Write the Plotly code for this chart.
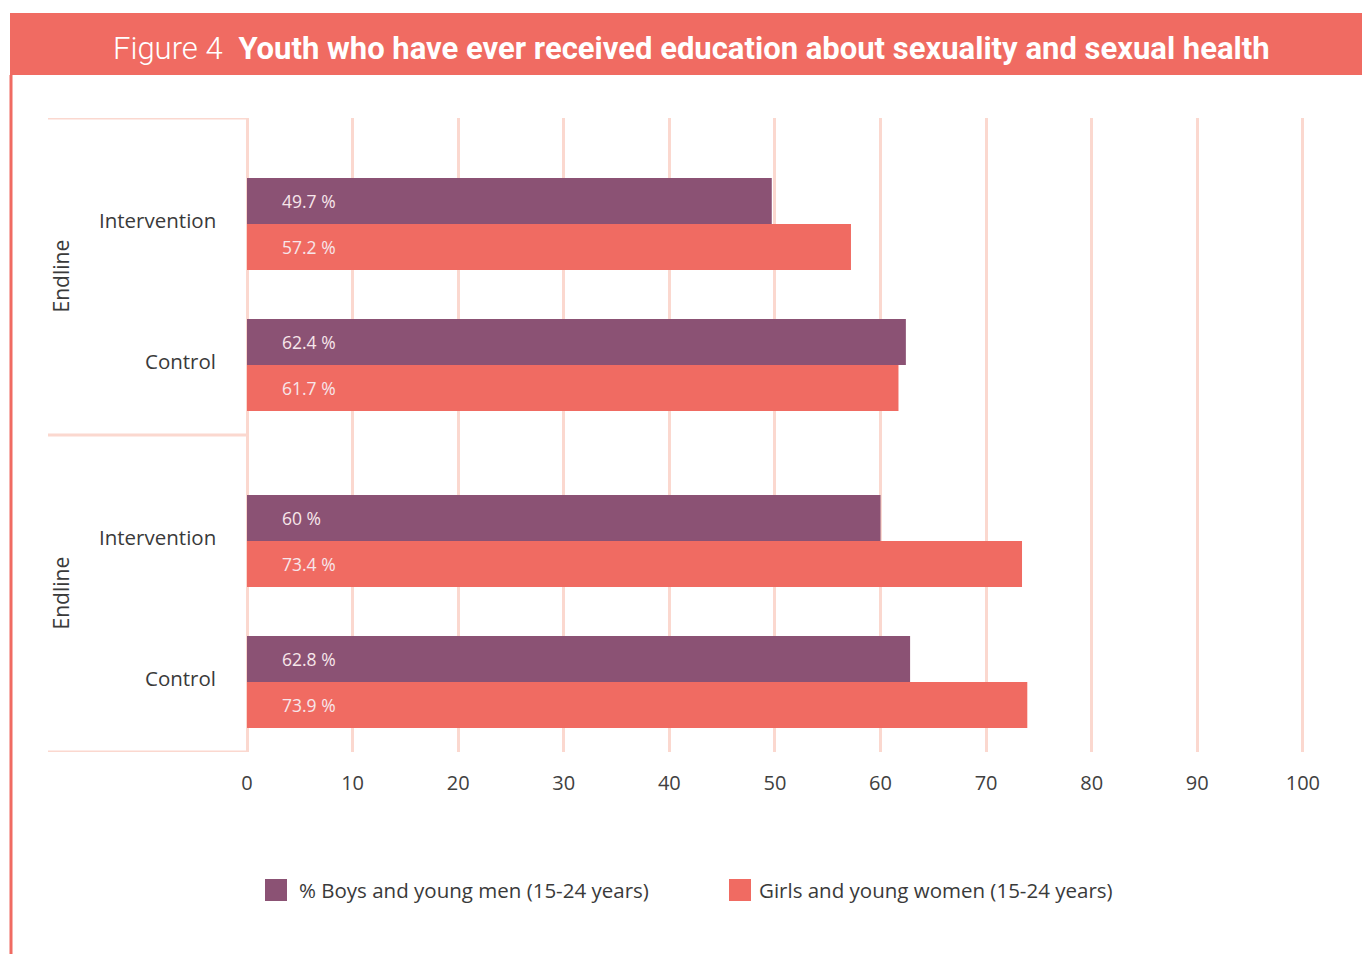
import plotly.graph_objects as go

# ---- data -------------------------------------------------------------
groups = ["Endline", "Endline"]
arms = ["Intervention", "Control"]
boys = [49.7, 62.4, 60.0, 62.8]      # % Boys and young men (15-24 years)
girls = [57.2, 61.7, 73.4, 73.9]     # Girls and young women (15-24 years)
x_ticks = [0, 10, 20, 30, 40, 50, 60, 70, 80, 90, 100]

title_light = "Figure 4"
title_bold = "Youth who have ever received education about sexuality and sexual health"
legend_labels = ["% Boys and young men (15-24 years)", "Girls and young women (15-24 years)"]

# ---- styling ----------------------------------------------------------
W, H = 1362, 954
L, R, T, B = 247, 1305, 118, 752          # plot area in page pixels
X_MAX = 100.2                              # a little headroom so the 100 gridline shows
PURPLE = "#8B5274"
CORAL = "#F06B62"
PINK = "#FBD8CF"
DARK = "#3A3A3A"
FONT = "Open Sans"

# y axis measured in pixels: each group 317 tall, bars 46 thick
GROUP_H = (B - T) / len(groups)
TOP_PAD = 60
CAT_STEP = 141
BAR_W = 46


def pxx(p):
    return (p - L) / (R - L)


def pxy(p):
    return (B - p) / (B - T)


boy_pos, girl_pos, pair_mid, arm_names = [], [], [], []
for g in range(len(groups)):
    for i, arm in enumerate(arms):
        top = g * GROUP_H + TOP_PAD + i * CAT_STEP
        boy_pos.append(top + BAR_W / 2)
        girl_pos.append(top + BAR_W * 1.5)
        pair_mid.append(top + BAR_W)
        arm_names.append(arm)

fig = go.Figure()
fig.add_trace(go.Bar(x=boys, y=boy_pos, orientation="h", width=BAR_W,
                     marker=dict(color=PURPLE, line=dict(width=0)),
                     name=legend_labels[0], showlegend=False, hoverinfo="x"))
fig.add_trace(go.Bar(x=girls, y=girl_pos, orientation="h", width=BAR_W,
                     marker=dict(color=CORAL, line=dict(width=0)),
                     name=legend_labels[1], showlegend=False, hoverinfo="x"))

annotations = []
shapes = []

# value labels inside bars
for vals, pos in ((boys, boy_pos), (girls, girl_pos)):
    for v, y in zip(vals, pos):
        annotations.append(dict(x=0, y=y, xref="x", yref="y", xshift=33,
                                xanchor="left", yanchor="middle", showarrow=False,
                                text=f"{v:g} %",
                                font=dict(family=FONT, size=17.5, color="#F7E6EA")))

# arm labels
for name, y in zip(arm_names, pair_mid):
    annotations.append(dict(x=pxx(218), y=y, xref="paper", yref="y", yshift=4,
                            xanchor="right", yanchor="middle", showarrow=False,
                            text=name, font=dict(family=FONT, size=20.5, color=DARK)))

# group labels (rotated)
for g, name in enumerate(groups):
    annotations.append(dict(x=pxx(60), y=g * GROUP_H + GROUP_H / 2, xref="paper", yref="y",
                            xanchor="center", yanchor="middle", showarrow=False,
                            textangle=-90, text=name,
                            font=dict(family=FONT, size=21, color=DARK)))

# group divider lines
for g in range(len(groups) + 1):
    yy = g * GROUP_H
    shapes.append(dict(type="line", xref="paper", yref="y", x0=pxx(48), x1=0,
                       y0=yy, y1=yy, line=dict(color=PINK, width=3)))

# title banner and left rule
shapes.append(dict(type="rect", xref="paper", yref="paper", x0=pxx(10), x1=pxx(W),
                   y0=pxy(75), y1=pxy(13), fillcolor=CORAL, line=dict(width=0), layer="below"))
shapes.append(dict(type="line", xref="paper", yref="paper", x0=pxx(11), x1=pxx(11),
                   y0=pxy(75), y1=pxy(H), line=dict(color=CORAL, width=3)))

annotations.append(dict(
    x=pxx(691), y=pxy(48), xref="paper", yref="paper", xanchor="center", yanchor="middle",
    showarrow=False,
    text=(f"<span style='font-weight:300'>{title_light}</span>\u2002"
          f"<b>{title_bold}</b>"),
    font=dict(family="Liberation Sans Narrow, Roboto, sans-serif", size=31, color="white")))

# legend drawn as swatches + labels
legend_x = [265, 729]
legend_gap = [32, 28]
for lx, gap, lab, col in zip(legend_x, legend_gap, legend_labels, (PURPLE, CORAL)):
    shapes.append(dict(type="rect", xref="paper", yref="paper", x0=pxx(lx), x1=pxx(lx + 22),
                       y0=pxy(901), y1=pxy(879), fillcolor=col, line=dict(width=0)))
    annotations.append(dict(x=pxx(lx + gap), y=pxy(890), xref="paper", yref="paper",
                            xanchor="left", yanchor="middle", showarrow=False, text=lab,
                            font=dict(family=FONT, size=20.5, color=DARK)))

fig.update_layout(
    width=W, height=H, autosize=False,
    margin=dict(l=L, r=W - R, t=T, b=H - B, pad=0),
    paper_bgcolor="white", plot_bgcolor="white",
    barmode="overlay",
    showlegend=False,
    xaxis=dict(range=[0, X_MAX], tickvals=x_ticks, ticks="", showline=False,
               showgrid=True, gridcolor=PINK, gridwidth=2.5,
               zeroline=True, zerolinecolor=PINK, zerolinewidth=3,
               ticklabelstandoff=17,
               tickfont=dict(family=FONT, size=20, color="#404040"), fixedrange=True),
    yaxis=dict(range=[B - T, 0], showticklabels=False, showgrid=False, zeroline=False,
               showline=False, ticks="", fixedrange=True),
    annotations=annotations,
    shapes=shapes,
)

fig.write_html("out.html")
